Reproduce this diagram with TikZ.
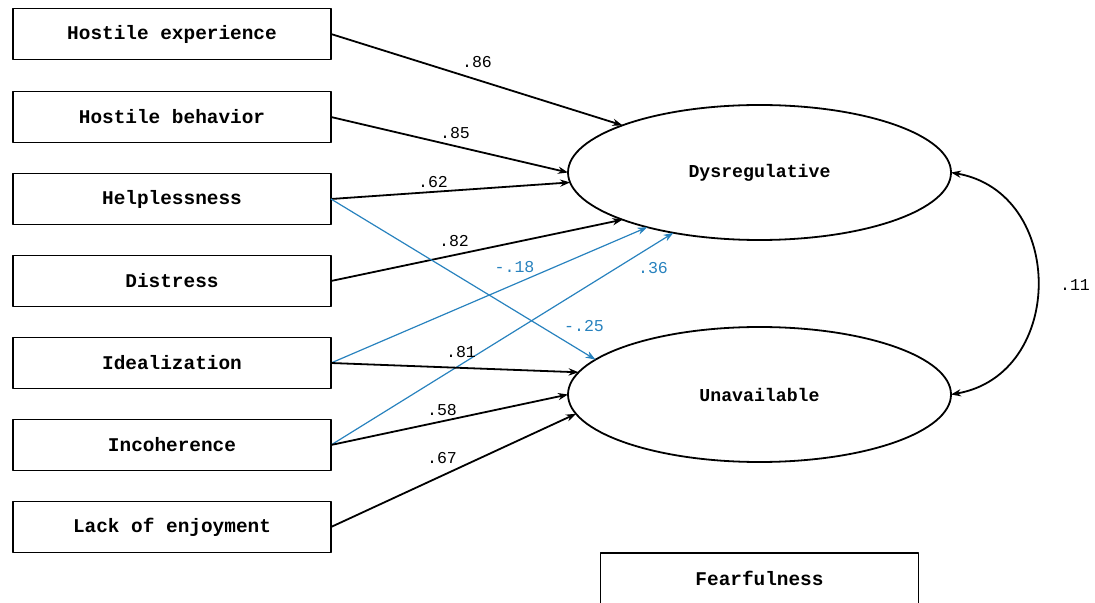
\documentclass[tikz,border=0pt]{standalone}
\usepackage{fontspec}
\setmonofont{Liberation Mono}
\usetikzlibrary{shapes.geometric,arrows.meta}
\definecolor{pathblue}{RGB}{40,130,190}
\tikzset{
  itembox/.style={draw,line width=0.9pt,minimum width=159pt,minimum height=25.5pt,inner sep=0pt,outer sep=0pt,font=\fontsize{9.7}{11}\selectfont\ttfamily\bfseries},
  factor/.style={draw,ellipse,line width=0.9pt,minimum width=191.5pt,minimum height=67.5pt,inner sep=0pt,outer sep=0pt,font=\fontsize{9.1}{11}\selectfont\ttfamily\bfseries},
  weight/.style={inner sep=0pt,font=\fontsize{8.3}{10}\selectfont\ttfamily},
  path/.style={->,line width=0.9pt},
  neg/.style={->,line width=0.6pt,color=pathblue}
}
\begin{document}
\begin{tikzpicture}[line cap=round,line join=round,>={Stealth[length=5pt,width=3.6pt]},x=0.5pt,y=-0.5pt]
\clip(0,0) rectangle (1095,603);
% indicator boxes
\node[itembox] (hexp) at (172,34) {Hostile experience};
\node[itembox] (hbeh) at (172,117) {Hostile behavior};
\node[itembox] (help) at (172,199) {Helplessness};
\node[itembox] (dist) at (172,281) {Distress};
\node[itembox] (ideal) at (172,363) {Idealization};
\node[itembox] (incoh) at (172,445) {Incoherence};
\node[itembox] (lack) at (172,527) {Lack of enjoyment};
\node[itembox] (fear) at (759.5,578.5) {Fearfulness};
% latent factors
\node[factor] (dys) at (759.5,172.5) {Dysregulative};
\node[factor] (una) at (759.5,394.5) {Unavailable};
% paths
\draw[path] (hexp.east)--(dys.161.1);
\draw[path] (hbeh.east)--(dys.west);
\draw[path] (help.east)--(dys.183.4);
\draw[path] (dist.east)--(dys.199.1);
\draw[neg] (ideal.east)--(dys.206.1);
\draw[neg] (incoh.east)--(dys.215.9);
\draw[neg] (help.east)--(una.168.6);
\draw[path] (ideal.east)--(una.173.2);
\draw[path] (incoh.east)--(una.180.7);
\draw[path] (lack.east)--(una.186.4);
\draw[<->,line width=0.9pt] (dys.east) .. controls +(115,20) and +(115,-20) .. (una.east);
% weights
\node[weight] (w86) at (477,62) {.86};
\node[weight] (w85) at (455,133) {.85};
\node[weight] (w62) at (433,182) {.62};
\node[weight] (w82) at (454,241) {.82};
\node[weight,pathblue] (w18) at (514.5,267) {-.18};
\node[weight,pathblue] (w36) at (653,268) {.36};
\node[weight,pathblue] (w25) at (584,326) {-.25};
\node[weight] (w81) at (461,352) {.81};
\node[weight] (w58) at (442,410) {.58};
\node[weight] (w67) at (442,458) {.67};
\node[weight] (w11) at (1075,285) {.11};
\end{tikzpicture}
\end{document}
